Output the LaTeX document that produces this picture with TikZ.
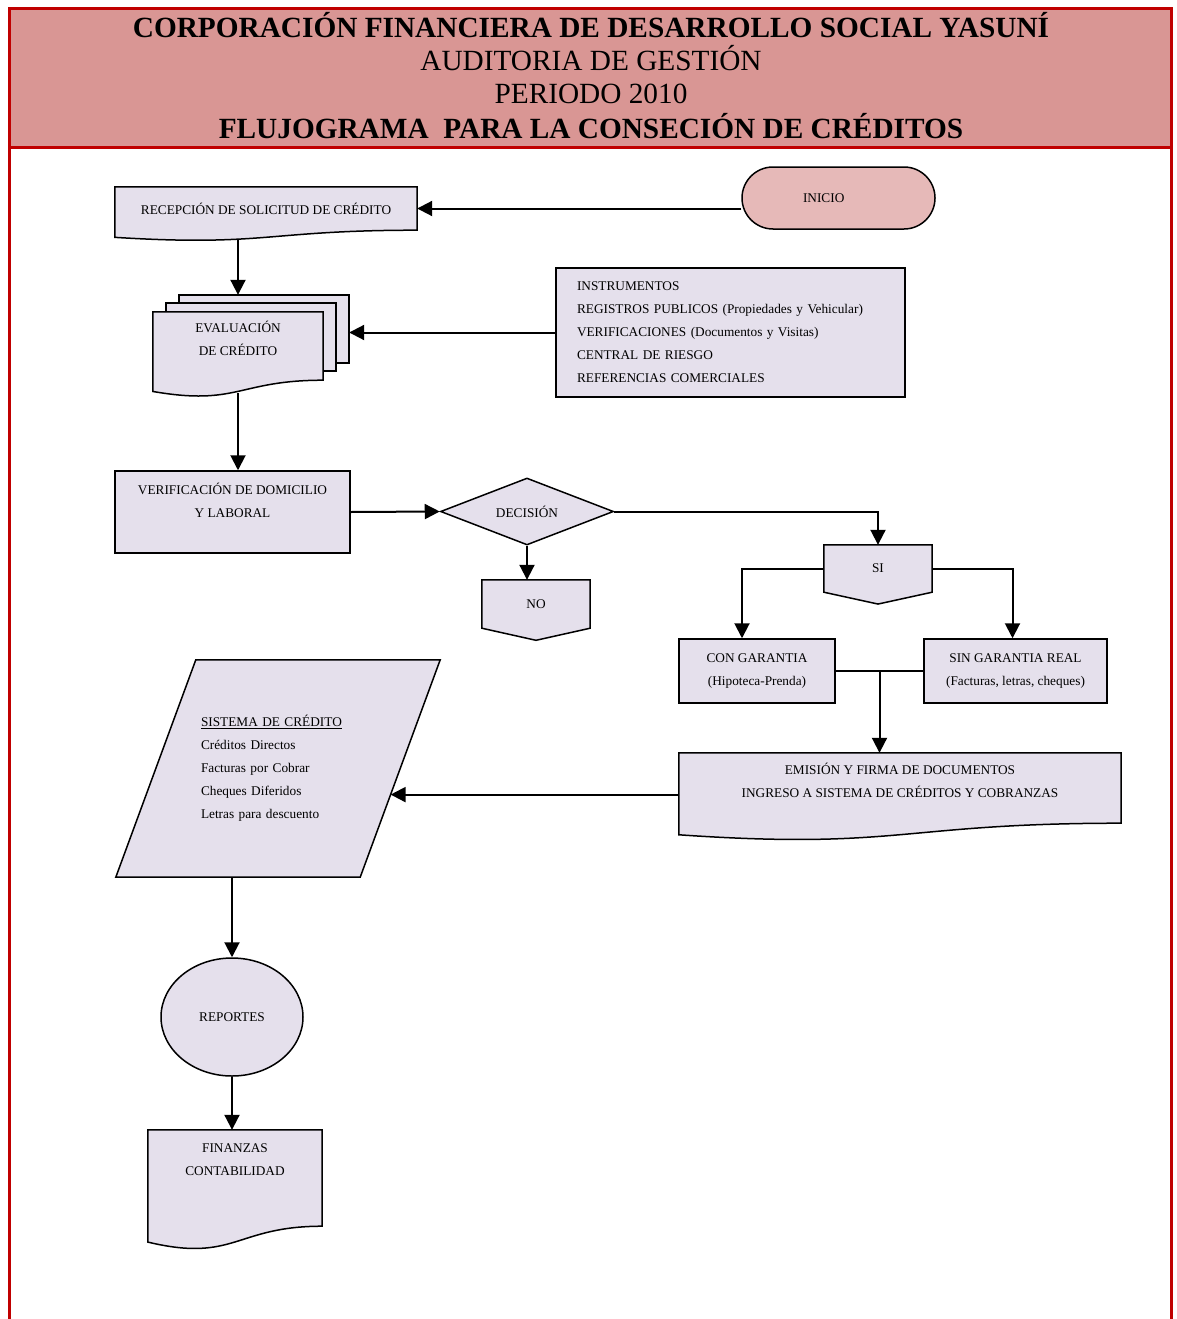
\documentclass[tikz,border=0pt]{standalone}
\usepackage{fontspec}
\setmainfont{Liberation Serif}
\usetikzlibrary{positioning, shapes.geometric, arrows.meta, calc, backgrounds}
\definecolor{frame red}{RGB}{192,0,0}
\definecolor{band red}{RGB}{217,150,148}
\definecolor{start pink}{RGB}{230,185,184}
\definecolor{box lilac}{RGB}{229,224,236}
\tikzset{
  shapeline/.style={draw=black, line width=1.5pt, fill=box lilac},
  connector/.style={line width=2pt},
  arrow/.style={connector, -{Triangle[length=15pt,width=15pt]}}}
% document sheet with a wavy foot, drawn under node #1
\newcommand{\wavedoc}[1]{%
  \filldraw[shapeline] (#1.north west) -- (#1.north east) -- (#1.south east)
    .. controls (#1.south) and ($(#1.south)!-0.381!(#1.north)$)
    .. ($(#1.south west)!-0.1646!(#1.north west)$) -- cycle;}
% off-page connector, drawn under node #1
\newcommand{\pentdoc}[1]{%
  \filldraw[shapeline] (#1.north west) -- (#1.north east) -- (#1.south east)
    -- ($(#1.south)!-0.25!(#1.north)$) -- (#1.south west) -- cycle;}

\begin{document}
\begin{tikzpicture}[
		x=1pt, y=-1pt,
		every node/.style={
			font=\fontsize{13.3}{23}\selectfont,
			inner sep=0pt,
			align=center
		},
		box/.style={rectangle, shapeline},
		plain/.style={rectangle},
		headbold/.style={font=\fontsize{29.3}{33}\selectfont\bfseries, anchor=base},
		headreg/.style={font=\fontsize{29.3}{33}\selectfont, anchor=base}
		]
		
		\useasboundingbox (0,0) rectangle (1176,1319);
		\fill[band red] (10,10) rectangle (1170,146);
		\draw[frame red, line width=3pt] (9,1330) -- (9,9) -- (1171,9) -- (1171,1330);
		\draw[frame red, line width=3pt] (9,147) -- (1171,147);
		
		\node[headbold] (head1) at (591,38) {CORPORACIÓN FINANCIERA DE DESARROLLO SOCIAL YASUNÍ};
		\node[headreg] (head2) at (591,71) {AUDITORIA DE GESTIÓN};
		\node[headreg] (head3) at (591,104) {PERIODO 2010};
		\node[headbold] (head4) at (591,139) {FLUJOGRAMA\ \ PARA LA CONSECIÓN DE CRÉDITOS};
		
		\node[plain, draw, line width=1.5pt, fill=start pink, rounded corners=31pt,
			minimum width=193pt, minimum height=62pt, text width=71pt, align=left] (inicio) at (838.5,198) {INICIO\\[-4pt]};
		\node[plain, minimum width=302pt, minimum height=43pt] (rec) at (266,208.5) {RECEPCIÓN DE SOLICITUD DE CRÉDITO};
		
		\node[plain, minimum width=170pt, minimum height=68pt] (eval) at (238,346) {};
		\node[below=9pt of eval.north] (evaltxt) {EVALUACIÓN\\DE CRÉDITO};
		
		\node[box, minimum width=349pt, minimum height=129pt, inner xsep=21pt, text width=307pt, align=left] (instr) at (730.5,332.5)
		{INSTRUMENTOS\\REGISTROS PUBLICOS (Propiedades y Vehicular)\\VERIFICACIONES (Documentos y Visitas)\\CENTRAL DE RIESGO\\REFERENCIAS COMERCIALES};
		
		\node[box, minimum width=235pt, minimum height=82pt] (verif) at (232.5,512) {};
		\node[below=13pt of verif.north] (veriftxt) {VERIFICACIÓN DE DOMICILIO\\Y LABORAL};
		
		\node[diamond, shapeline, aspect=2.6, minimum width=173pt, minimum height=67pt] (dec) at (527,511.5) {DECISIÓN};
		\node[plain, minimum width=108pt, minimum height=48pt] (no) at (536,604) {NO};
		\node[plain, minimum width=108pt, minimum height=47pt] (si) at (878,568.5) {SI};
		
		\node[box, minimum width=156pt, minimum height=64pt] (con) at (757,671) {CON GARANTIA\\(Hipoteca-Prenda)};
		\node[box, minimum width=183pt, minimum height=64pt] (sin) at (1015.5,671) {SIN GARANTIA REAL\\(Facturas, letras, cheques)};
		
		\node[plain, minimum width=442pt, minimum height=70pt] (emi) at (900,788) {};
		\node[below=10pt of emi.north] (emitxt) {EMISIÓN Y FIRMA DE DOCUMENTOS\\INGRESO A SISTEMA DE CRÉDITOS Y COBRANZAS};
		
		\node[plain, minimum width=244pt, minimum height=217pt, text width=154pt, align=left] (sys) at (278,768.5)
		{\underline{SISTEMA DE CRÉDITO}\\Créditos Directos\\Facturas por Cobrar\\Cheques Diferidos\\Letras para descuento};
		
		\node[ellipse, shapeline, minimum width=142pt, minimum height=118pt] (rep) at (232,1017) {REPORTES};
		
		\node[plain, minimum width=174pt, minimum height=96pt] (fin) at (235,1178) {};
		\node[below=14pt of fin.north] (fintxt) {FINANZAS\\CONTABILIDAD};
		
		\begin{scope}[on background layer]
			\wavedoc{rec}
			\filldraw[shapeline] ([shift={(26,-17)}]eval.north west) rectangle ([shift={(26,-17)}]eval.south east);
			\filldraw[shapeline] ([shift={(13,-9)}]eval.north west) rectangle ([shift={(13,-9)}]eval.south east);
			\wavedoc{eval}
			\pentdoc{no}
			\pentdoc{si}
			\wavedoc{emi}
			\wavedoc{fin}
			% data parallelogram
			\filldraw[shapeline] ([xshift=40pt]sys.north west) -- ([xshift=40pt]sys.north east)
				-- ([xshift=-40pt]sys.south east) -- ([xshift=-40pt]sys.south west) -- cycle;
		\end{scope}
		
		\coordinate (evaltop) at ([yshift=17pt]eval.north);
		\coordinate (evalback) at ([xshift=26pt]eval.east);
		\coordinate (recfoot) at ([yshift=-10pt]rec.south);
		\coordinate (evalfoot) at ([yshift=-13pt]eval.south);
		\coordinate (merge) at ($(con.east)!0.5!(sin.west)$);
		\coordinate (sysside) at ($([xshift=40pt]sys.north east)!0.62!([xshift=-40pt]sys.south east)$);
		
		\draw[arrow] (inicio.west |- rec.east) -- (rec.east);
		\draw[arrow] (recfoot -| evaltop) -- (evaltop);
		\draw[arrow] (instr.west) -- (evalback |- instr.west);
		\draw[arrow] (evalfoot) -- (evalfoot |- verif.north);
		\draw[arrow] (verif.east) -- (dec.west);
		\draw[arrow] (dec.south) -- (dec.south |- no.north);
		\draw[arrow] (dec.east) -| (si.north);
		\draw[arrow] (si.west) -| ([xshift=-15pt]con.north);
		\draw[arrow] (si.east) -| ([xshift=-3pt]sin.north);
		\draw[connector] (con.east) -- (sin.west);
		\draw[arrow] (merge) -- (merge |- emi.north);
		\draw[arrow] (emi.west |- sysside) -- (sysside);
		\draw[arrow] (sys.south -| rep.north) -- (rep.north);
		\draw[arrow] (rep.south) -- (rep.south |- fin.north);
		
	\end{tikzpicture}
\end{document}
